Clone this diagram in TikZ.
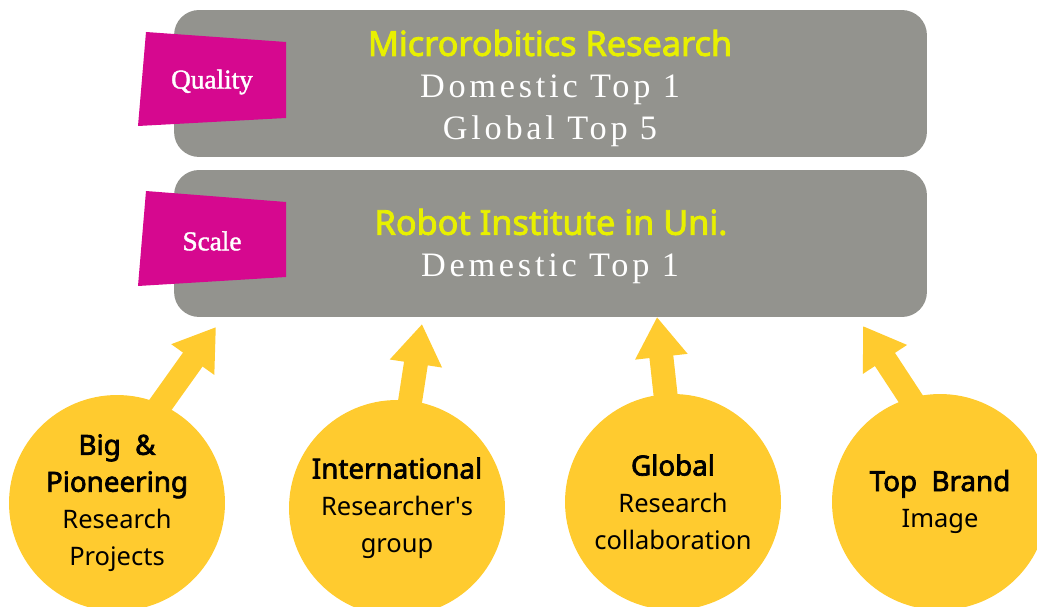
\documentclass[tikz,border=0pt]{standalone}
\usepackage{fontspec}
\setmainfont{Noto Sans}[BoldFont={Noto Sans}, BoldFeatures={FakeBold=2.5}]
\newfontfamily\widefont[LetterSpace=11]{Liberation Serif}
\newfontfamily\tagfont[BoldFont={Liberation Serif}, BoldFeatures={FakeBold=1.5}]{Liberation Serif}
\usetikzlibrary{arrows.meta, backgrounds}

\definecolor{boxgrey}{HTML}{93938E}
\definecolor{tagpink}{HTML}{D6088F}
\definecolor{titleyellow}{HTML}{E8F000}
\definecolor{goalyellow}{HTML}{FFCB2F}

\newcommand{\goalhead}[1]{{\fontsize{15.8}{21}\selectfont\bfseries #1}}

\begin{document}
\begin{tikzpicture}[x=0.02cm, y=-0.02cm,
    greybox/.style={fill=boxgrey, rounded corners=0.5cm, minimum width=15.06cm, minimum height=2.94cm},
    headline/.style={text=titleyellow, font=\fontsize{19.5}{22}\selectfont\bfseries},
    rankline/.style={text=white, font=\widefont\fontsize{19.5}{22}\selectfont},
    tagtext/.style={text=white, font=\tagfont\fontsize{15.5}{18}\selectfont\bfseries},
    goal/.style={circle, fill=goalyellow, minimum size=4.32cm, inner sep=0pt, align=center, font=\fontsize{14.5}{21}\selectfont},
    fatarrow/.style={-{Triangle[length=0.8cm, width=1cm]}, line width=0.48cm, draw=goalyellow, shorten <=-6pt}]

    \useasboundingbox (0,0) rectangle (1037,607);

    % Quality box
    \node[greybox] (quality) at (550.5,83.5) {};
    \fill[tagpink] (146,32) -- (286,42) -- (286,118) -- (138,126) -- cycle;
    \node[tagtext] (qualitytag) at (212,82) {Quality};
    \node[headline] (microtitle) at (550,43) {Microrobitics Research};
    \node[rankline] (domestic) at (550,90) {Domestic Top 1};
    \node[rankline] (global) at (550,131) {Global Top 5};

    % Scale box
    \node[greybox] (scale) at (550.5,243.5) {};
    \fill[tagpink] (146,191) -- (286,202) -- (286,277) -- (138,286) -- cycle;
    \node[tagtext] (scaletag) at (212,241) {Scale};
    \node[headline] (institute) at (551,222) {Robot Institute in Uni.};
    \node[rankline] (demestic) at (550,269) {Demestic Top 1};

    % Circles
    \node[goal] (big) at (117,503) {\goalhead{Big \ \&}\\\goalhead{Pioneering}\\Research\\Projects};
    \node[goal] (intl) at (397,508) {\goalhead{International}\\Researcher\textquotesingle s\\group};
    \node[goal] (collab) at (673,502) {\goalhead{Global}\\Research\\collaboration};
    \node[goal] (brand) at (940,502) {\goalhead{Top \ Brand}\\Image};

    % Arrows up to the scale box
    \coordinate (tip1) at (216,327);
    \coordinate (tip2) at (422,324);
    \coordinate (tip3) at (657,317);
    \coordinate (tip4) at (863,326);
    \begin{scope}[on background layer]
        \draw[fatarrow] (big.66) -- (tip1);
        \draw[fatarrow] (intl.83) -- (tip2);
        \draw[fatarrow] (collab.94) -- (tip3);
        \draw[fatarrow] (brand.106) -- (tip4);
    \end{scope}
\end{tikzpicture}
\end{document}
